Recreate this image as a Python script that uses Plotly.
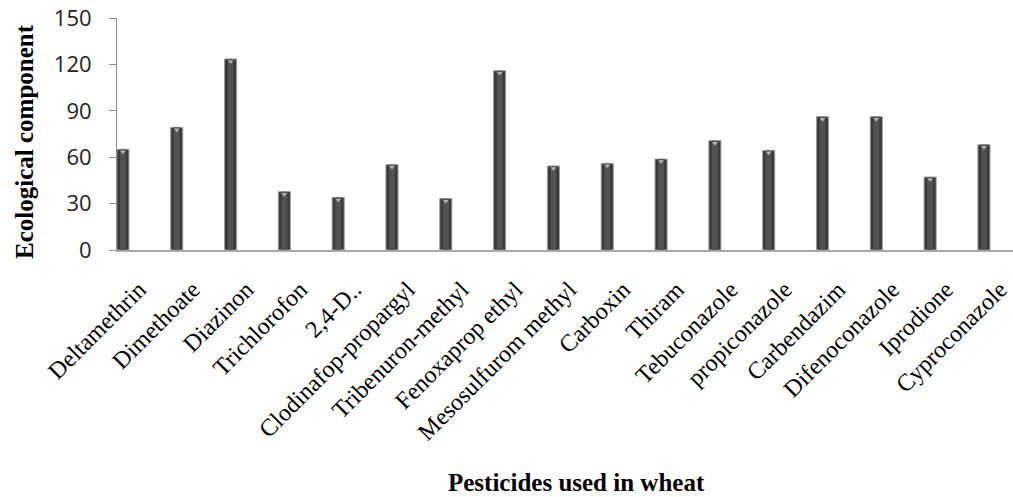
import plotly.graph_objects as go

categories = ["Deltamethrin", "Dimethoate", "Diazinon", "Trichlorofon", "2,4-D..",
              "Clodinafop-propargyl", "Tribenuron-methyl", "Fenoxaprop ethyl",
              "Mesosulfurom methyl", "Carboxin", "Thiram", "Tebuconazole",
              "propiconazole", "Carbendazim", "Difenoconazole", "Iprodione",
              "Cyproconazole"]
values = [65.1, 79.3, 123.5, 37.7, 34.0, 55.2, 33.2, 115.9, 54.3, 56.0, 58.8,
          70.7, 64.4, 86.2, 86.2, 47.2, 68.1]
y_ticks = [0, 30, 60, 90, 120, 150]

x_idx = list(range(len(categories)))

fig = go.Figure()
# outer dark bar
fig.add_trace(go.Bar(
    x=x_idx, y=values, width=0.225,
    marker=dict(color="#3a3a3a", line=dict(color="#a0a0a0", width=1)),
    hoverinfo="skip", showlegend=False))
# inner lighter strip (cylinder shading)
fig.add_trace(go.Bar(
    x=x_idx, y=values, width=0.11,
    marker=dict(color="#525252", line=dict(width=0)),
    showlegend=False))
# small light triangle at bar top
fig.add_trace(go.Scatter(
    x=x_idx, y=[v - 1.6 for v in values], mode="markers",
    marker=dict(symbol="triangle-down", size=5, color="#b0b0b0"),
    hoverinfo="skip", showlegend=False))

fig.update_layout(
    width=1013, height=497, autosize=False,
    margin=dict(l=117, r=0, t=18, b=247),
    plot_bgcolor="white", paper_bgcolor="white",
    barmode="overlay",
    xaxis=dict(
        range=[-0.11, 16.54],
        tickmode="array", tickvals=x_idx, ticktext=categories,
        tickangle=-45,
        tickfont=dict(family="Liberation Serif", size=24, color="#000000"),
        showgrid=False, zeroline=False,
        showline=True, linecolor="#a8a8a8", linewidth=2,
        ticks="", ticklabelshift=16, ticklabelstandoff=14,
        ticklabeloverflow="allow",
    ),
    yaxis=dict(
        range=[0, 150],
        tickmode="array", tickvals=y_ticks,
        tickfont=dict(family="Open Sans", size=22, color="#222222"),
        showgrid=False, zeroline=False,
        showline=True, linecolor="#8c8c8c", linewidth=1,
        ticks="outside", ticklen=7, tickcolor="#8c8c8c",
        ticklabelstandoff=13,
    ),
    annotations=[
        dict(text="<b>Ecological component</b>", xref="paper", yref="paper",
             x=(24 - 117) / 896, y=(250 - 142) / 232, textangle=-90,
             xanchor="center", yanchor="middle", showarrow=False,
             font=dict(family="Liberation Serif", size=25, color="#000000")),
        dict(text="<b>Pesticides used in wheat</b>", xref="paper", yref="paper",
             x=(576 - 117) / 896, y=(250 - 482) / 232,
             xanchor="center", yanchor="middle", showarrow=False,
             font=dict(family="Liberation Serif", size=25, color="#000000")),
    ],
)

fig.write_html(
    "out.html",
    config={"displayModeBar": False},
    post_script="document.body.style.margin='0';document.body.style.overflow='hidden';",
)
